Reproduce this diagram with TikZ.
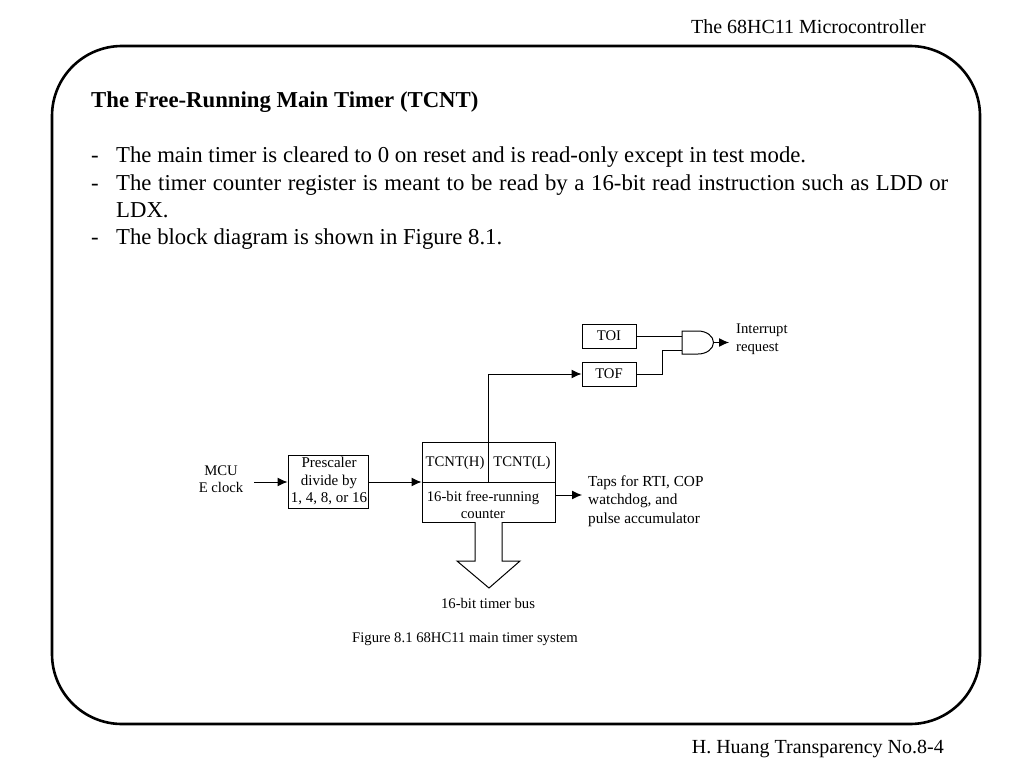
\documentclass[tikz,border=0pt]{standalone}
\usepackage{fontspec}
\setmainfont{Liberation Serif}
\usetikzlibrary{arrows.meta,calc}
\tikzset{
  x=1pt,y=-1pt,
  bodytext/.style={anchor=base west,inner sep=0pt,font=\fontsize{22.75}{23}\selectfont},
  cornertext/.style={anchor=base east,inner sep=0pt,font=\fontsize{20}{20}\selectfont},
  smalltext/.style={inner sep=0pt,align=center,font=\fontsize{14.7}{17.5}\selectfont},
  leftsmall/.style={inner sep=0pt,align=left,font=\fontsize{14.7}{17.5}\selectfont},
  regbox/.style={draw=black,line width=1pt,inner sep=0pt},
  wire/.style={line width=1pt,draw=black},
  arrowwire/.style={wire,-{Latex[length=10pt,width=9pt]}},
}
\begin{document}
\begin{tikzpicture}
\useasboundingbox (0,0) rectangle (1024,768);
\draw[line width=2.6pt,rounded corners=70pt] (52,46) rectangle (980,724);
\node[cornertext] (hdr) at (926,34) {The 68HC11 Microcontroller};
\node[cornertext] (ftr) at (944,753) {H. Huang Transparency No.8-4};
\node[bodytext] (title) at (91,107) {\bfseries The Free-Running Main Timer (TCNT)};
\node[bodytext] (d1) at (91,162) {-};
\node[bodytext] (l1) at (116,162) {The main timer is cleared to 0 on reset and is read-only except in test mode.};
\node[bodytext] (d2) at (91,190) {-};
\node[bodytext] (l2) at (116,190) {\makebox[832pt][s]{The timer counter register is meant to be read by a 16-bit read instruction such as LDD or}};
\node[bodytext] (l2b) at (116,217) {LDX.};
\node[bodytext] (d3) at (91,244) {-};
\node[bodytext] (l3) at (116,244) {The block diagram is shown in Figure 8.1.};

\node[regbox,minimum width=54pt,minimum height=24pt,smalltext] (toi) at (609,336) {TOI};
\node[regbox,minimum width=54pt,minimum height=24pt,smalltext] (tof) at (609,374) {TOF};
\coordinate (g1) at (682,336);
\coordinate (g2) at (682,350);
\coordinate (gout) at (713,342.5);
\draw[wire,fill=white] (682,331) -- (698,331) arc[start angle=-90,end angle=90,x radius=15.5pt,y radius=-11.5pt] -- (682,354) -- cycle;
\draw[wire] (toi.east) -- (g1);
\draw[wire] (tof.east) -- (662,374) -- (662,350) -- (g2);
\coordinate (intr) at (729,342.5);
\draw[arrowwire] (gout) -- (intr);
\node[leftsmall,anchor=west] (irq) at (736,339) {Interrupt\\request};

\node[smalltext] (mcu) at (221,479) {MCU\\E clock};
\coordinate (mcuout) at (254,482);
\node[regbox,minimum width=80pt,minimum height=53pt] (pre) at (328,482) {};
\node[inner sep=0pt,align=center,font=\fontsize{15}{17.5}\selectfont] (pretxt) at (329,481) {Prescaler\\divide by\\1, 4, 8, or 16};
\draw[arrowwire] (mcuout) -- (pre.west);

\node[regbox,minimum width=133pt,minimum height=80pt] (cnt) at (488.5,482) {};
\coordinate (midL) at (cnt.west);
\coordinate (midR) at (cnt.east);
\coordinate (splitB) at (488,482);
\draw[wire] (midL) -- (midR);
\node[smalltext] (tcnth) at (455,463) {TCNT(H)};
\node[smalltext] (tcntl) at (522,463) {TCNT(L)};
\node[smalltext] (freerun) at (483,505) {16-bit free-running\\counter};
\draw[arrowwire] (pre.east) -- (cnt.west);
\draw[arrowwire] (splitB) |- (tof.west);
\coordinate (tapstart) at (555,495);
\coordinate (tapend) at (582,495);
\draw[arrowwire] (tapstart) -- (tapend);
\node[inner sep=0pt,align=left,anchor=west,font=\fontsize{15.3}{18.3}\selectfont] (taps) at (588,501) {Taps for RTI, COP\\watchdog, and\\pulse accumulator};

\draw[wire,fill=white] (475,522) -- (475,561) -- (457,561) -- (489,588) -- (520,561) -- (502,561) -- (502,522);
\node[smalltext] (bus) at (488,603) {16-bit timer bus};
\node[smalltext] (cap) at (465,639) {Figure 8.1 68HC11 main timer system};
\end{tikzpicture}
\end{document}
